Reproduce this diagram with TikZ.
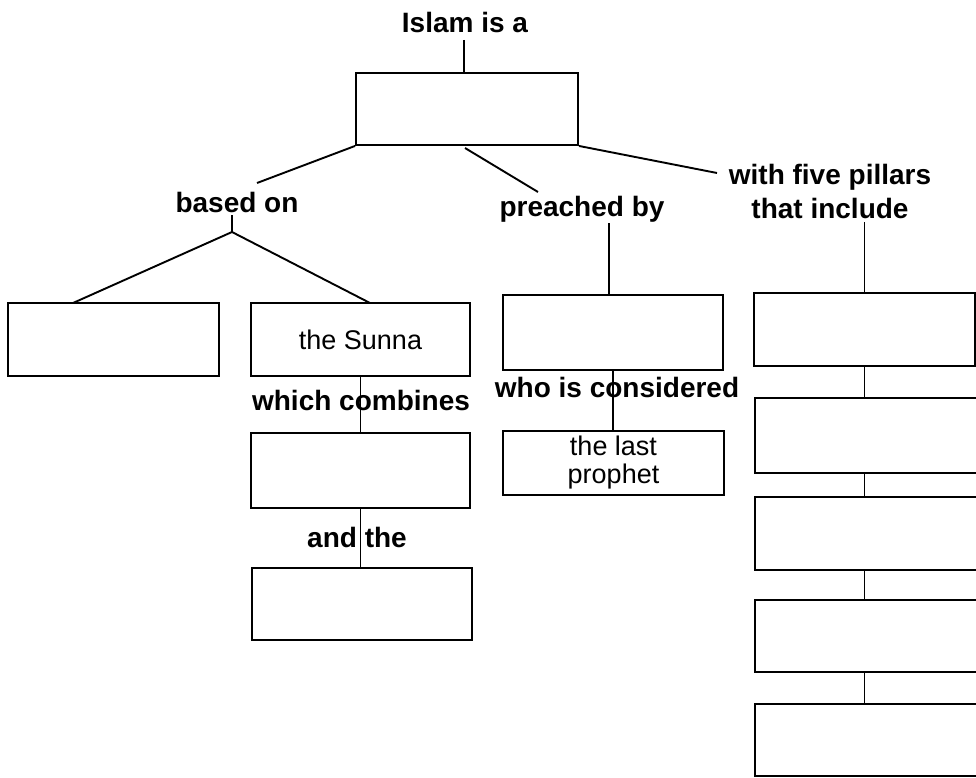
\documentclass[tikz,border=0pt]{standalone}
\usepackage{fontspec}
\setmainfont{Liberation Sans}
\begin{document}
\begin{tikzpicture}[x=1pt,y=-1pt,
  box/.style={draw, line width=1.9pt, inner sep=0pt},
  lbl/.style={font=\fontsize{28}{30}\selectfont\bfseries, inner sep=0pt},
  txt/.style={font=\fontsize{27}{28}\selectfont, align=center},
  conn/.style={line width=1.9pt}]
\useasboundingbox (0,0) rectangle (976,778);
\clip (0,0) rectangle (976,778);
% boxes
\node[box, minimum width=222pt, minimum height=72pt] (top) at (467,109) {};
\node[box, minimum width=211pt, minimum height=73pt] (left) at (113.5,339.5) {};
\node[box, txt, minimum width=219pt, minimum height=73pt] (sunna) at (360.5,339.5) {the Sunna};
\node[box, minimum width=219pt, minimum height=75pt] (comb) at (360.5,470.5) {};
\node[box, minimum width=220pt, minimum height=72pt] (andb) at (362,604) {};
\node[box, minimum width=220pt, minimum height=75pt] (preacher) at (613,332.5) {};
\node[box, txt, minimum width=221pt, minimum height=64pt] (lastp) at (613.5,463) {the last\\prophet};
\node[box, minimum width=221pt, minimum height=73pt] (r1) at (864.5,329.5) {};
\node[box, minimum width=234pt, minimum height=75pt] (r2) at (872,435.5) {};
\node[box, minimum width=234pt, minimum height=73pt] (r3) at (872,533.5) {};
\node[box, minimum width=234pt, minimum height=72pt] (r4) at (872,636) {};
\node[box, minimum width=234pt, minimum height=72pt] (r5) at (872,740) {};
% labels
\node[lbl, anchor=base] (islam) at (465,33) {Islam is a};
\node[lbl, anchor=base] (based) at (237,212) {based on};
\node[lbl, anchor=base] (preached) at (582,216) {preached by};
\node[lbl, anchor=base] (pillars) at (830,184) {with five pillars};
\node[lbl, anchor=base] (include) at (830,218) {that include};
\node[lbl, anchor=base] (combines) at (361,410) {which combines};
\node[lbl, anchor=base] (considered) at (617,397) {who is considered};
\node[lbl, anchor=base] (andthe) at (357,547) {and the};
% coordinates
\coordinate (islamB) at (464,40);
\coordinate (bonTop) at (257,183);
\coordinate (bonB) at (232,215);
\coordinate (bonFork) at (232,232);
\coordinate (leftIn) at (73,303);
\coordinate (sunIn) at (370,303);
\coordinate (pr1) at (465,148);
\coordinate (pr2) at (538,192);
\coordinate (pbB) at (609,223);
\coordinate (wf) at (717,173);
\coordinate (tiB) at (864.5,222);
% connectors
\draw[conn] (islamB) -- (islamB |- top.north);
\draw[conn] (top.south west) -- (bonTop);
\draw[conn] (bonB) -- (bonFork);
\draw[conn] (bonFork) -- (leftIn);
\draw[conn] (bonFork) -- (sunIn);
\draw[conn] (pr1) -- (pr2);
\draw[conn] (pbB) -- (pbB |- preacher.north);
\draw[conn] (top.south east) -- (wf);
\draw[conn] (tiB) -- (r1.north);
\draw[conn] (sunna.south) -- (comb.north);
\draw[conn] (comb.south) -- (comb.south |- andb.north);
\draw[conn] (preacher.south) -- (preacher.south |- lastp.north);
\draw[conn] (r1.south) -- (r1.south |- r2.north);
\draw[conn] (r1.south |- r2.south) -- (r1.south |- r3.north);
\draw[conn] (r1.south |- r3.south) -- (r1.south |- r4.north);
\draw[conn] (r1.south |- r4.south) -- (r1.south |- r5.north);
\end{tikzpicture}
\end{document}
